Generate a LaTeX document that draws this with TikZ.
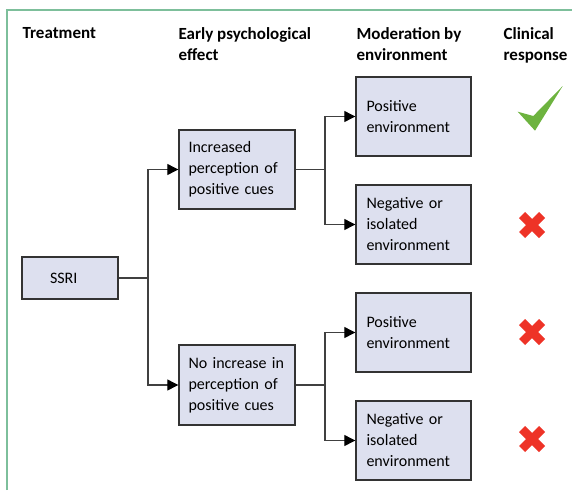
\documentclass[tikz,border=0pt]{standalone}
\usepackage{fontspec}
\setmainfont{Carlito}
\usetikzlibrary{arrows.meta}
\definecolor{boxfill}{HTML}{DDE0EF}
\definecolor{boxline}{HTML}{333333}
\definecolor{frameline}{HTML}{7DBF9B}
\definecolor{tickgreen}{HTML}{6DB33F}
\definecolor{crossred}{HTML}{EE3327}
\tikzset{every picture/.style={line width=1.2pt}}
\tikzset{
  box/.style={draw=boxline, fill=boxfill, line width=1.4pt, align=left,
    inner xsep=9.5pt, inner ysep=0pt, font=\fontsize{16}{21}\selectfont},
  head/.style={anchor=north west, align=left, inner sep=0pt,
    font=\fontsize{17}{21}\selectfont\bfseries},
  link/.style={draw=black!75, line width=1.2pt},
  arr/.style={link, -{Triangle[length=11pt,width=11pt,color=black]}},
  cross/.style={crossred, line width=8.5pt}
}

\begin{document}
\begin{tikzpicture}[x=1pt,y=-1pt]
\useasboundingbox (0,0) rectangle (572,490);
\draw [frameline, line width=2pt] (7,490) -- (7,10) -- (572,10);
%
\node[head] (h1) at (22,26.5) {Treatment};
\node[head] (h2) at (178,26.5) {Early psychological\\effect};
\node[head] (h3) at (356,26.5) {Moderation by\\environment};
\node[head] (h4) at (503,26.5) {Clinical\\response};
%
\node[box, text width=40pt, inner xsep=28pt, minimum height=42pt] (ssri) at (70,278) {SSRI};
\node[box, text width=97pt, minimum height=79pt] (inc) at (237,169.5) {Increased\\perception of\\positive cues};
\node[box, text width=97pt, minimum height=80pt] (noinc) at (237,385) {No increase in\\perception of\\positive cues};
%
\node[box, text width=94pt, inner xsep=10.5pt, minimum height=79pt] (pos1) at (413.5,116.5) {Positive\\environment};
\node[box, text width=94pt, inner xsep=10.5pt, minimum height=79pt] (neg1) at (413.5,224.5) {Negative or\\isolated\\environment};
\node[box, text width=94pt, inner xsep=10.5pt, minimum height=79pt] (pos2) at (413.5,332.5) {Positive\\environment};
\node[box, text width=94pt, inner xsep=10.5pt, minimum height=79pt] (neg2) at (413.5,440.5) {Negative or\\isolated\\environment};
%
\coordinate (j0) at (148,278);
\coordinate (j1) at (325,169.5);
\coordinate (j2) at (325,385);
\draw[link] (ssri.east) -- (j0);
\draw[arr] (j0) |- (inc.west);
\draw[arr] (j0) |- (noinc.west);
\draw[link] (inc.east) -- (j1);
\draw[arr] (j1) |- (pos1.west);
\draw[arr] (j1) |- (neg1.west);
\draw[link] (noinc.east) -- (j2);
\draw[arr] (j2) |- (pos2.west);
\draw[arr] (j2) |- (neg2.west);
%
\fill[tickgreen] (517.7,111.7) -- (533.3,116) -- (562.7,86) -- (535,130.7) -- cycle;
\foreach \y in {225,332,439}
  \draw[cross] (522,\y-10) -- (542,\y+10) (522,\y+10) -- (542,\y-10);
\end{tikzpicture}
\end{document}
